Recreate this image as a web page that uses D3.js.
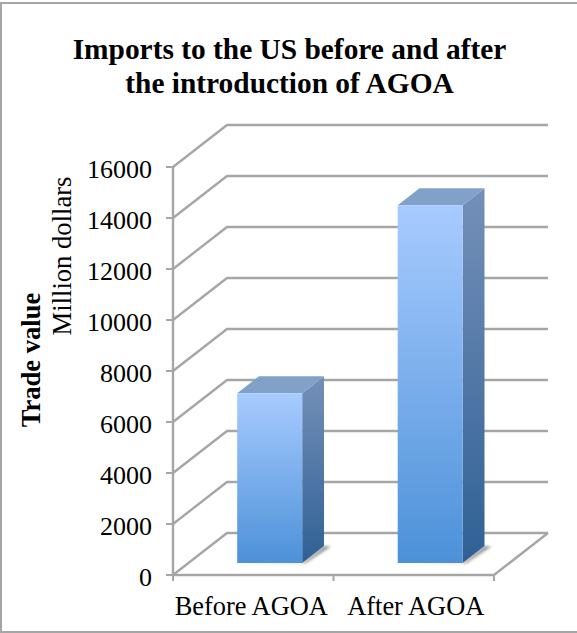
<!DOCTYPE html>
<html>
<head>
<meta charset="utf-8">
<script src="https://cdn.jsdelivr.net/npm/d3@7"></script>
<style>
html,body{margin:0;padding:0;background:#fff}
svg{display:block}
text{font-family:"Liberation Serif",serif;fill:#000}
</style>
</head>
<body>
<svg id="chart" width="577" height="633"></svg>
<script>
const categories = ["Before AGOA", "After AGOA"];
const tradeValues = [6660, 14030];
const yTicks = [0, 2000, 4000, 6000, 8000, 10000, 12000, 14000, 16000];
const titleLines = ["Imports to the US before and after", "the introduction of AGOA"];
const axisTitleBold = "Trade value";
const axisTitleUnits = "Million dollars";

const svg = d3.select("#chart");
const W = 577, H = 633;

// Oblique projection: depth d in [0,1] shifts a point right and up.
const depthX = 54, depthY = -42;
const x = d3.scaleBand().domain(categories).range([173, 494]);
const y = d3.scaleLinear().domain([0, 16000]).range([575, 167]);
const project = (px, py, d) => [px + depthX * d, py + depthY * d];
const poly = pts => pts.map(p => p.join(",")).join(" ");

const GRID = "#a6a6a6";
const defs = svg.append("defs");

const front = defs.append("linearGradient").attr("id", "barFront").attr("x1", 0).attr("y1", 0).attr("x2", 0).attr("y2", 1);
front.append("stop").attr("offset", "0%").attr("stop-color", "#a8cbff");
front.append("stop").attr("offset", "100%").attr("stop-color", "#4c91d8");

const side = defs.append("linearGradient").attr("id", "barSide").attr("x1", 0).attr("y1", 0).attr("x2", 0).attr("y2", 1);
side.append("stop").attr("offset", "0%").attr("stop-color", "#7590b8");
side.append("stop").attr("offset", "100%").attr("stop-color", "#2f6095");

defs.append("filter").attr("id", "soft").attr("x", "-30%").attr("y", "-60%").attr("width", "160%").attr("height", "220%")
  .append("feGaussianBlur").attr("stdDeviation", 1.4);

// Page frame: top, left and bottom edges only
svg.append("polyline").attr("points", poly([[W, 3], [1, 3], [1, H - 1], [W, H - 1]]))
  .attr("fill", "none").attr("stroke", GRID).attr("stroke-width", 2);

// Walls and floor
const grid = svg.append("g").attr("fill", "none").attr("stroke", GRID).attr("stroke-width", 2.4);
const [x0, x1] = x.range();
yTicks.forEach(t => {
  const a = [x0, y(t)], b = project(x0, y(t), 1), c = project(x1, y(t), 1);
  grid.append("polyline").attr("points", poly([a, b, c]));
});
const y0 = y(0);
grid.append("polyline").attr("points", poly([[x0, y0], [x1, y0], project(x1, y0, 1)]));
grid.append("line").attr("x1", x0).attr("x2", x0).attr("y1", y(16000)).attr("y2", y0);

// Axis tick marks and labels
const ticks = svg.append("g").attr("stroke", GRID).attr("stroke-width", 2);
yTicks.forEach(t => ticks.append("line").attr("x1", x0 - 7).attr("x2", x0).attr("y1", y(t)).attr("y2", y(t)));
[x0, x0 + x.bandwidth(), x1].forEach(px => ticks.append("line").attr("x1", px).attr("x2", px).attr("y1", y0).attr("y2", y0 + 6));

svg.append("g").selectAll("text").data(yTicks).join("text")
  .attr("x", 152).attr("y", d => y(d) + 10.5).attr("text-anchor", "end")
  .attr("font-size", 26).text(d => d);

svg.append("g").selectAll("text").data(categories).join("text")
  .attr("x", (d, i) => x(d) + x.bandwidth() / 2 + (i ? 2 : -2)).attr("y", 615).attr("text-anchor", "middle")
  .attr("font-size", 26.4).text(d => d);

// Bars stand part-way back on the floor
const barDepthFront = 0.286, barDepthBack = 0.69, barWidth = 65, barShift = 1;
const bars = svg.append("g").selectAll("g").data(categories.map((c, i) => ({ c, v: tradeValues[i] }))).join("g");

bars.each(function (d) {
  const g = d3.select(this);
  const left = x(d.c) + x.bandwidth() / 2 - barWidth / 2 + barShift;
  const right = left + barWidth;
  const fl = project(left, y(0), barDepthFront), fr = project(right, y(0), barDepthFront);
  const tl = project(left, y(d.v), barDepthFront), tr = project(right, y(d.v), barDepthFront);
  const br = project(right, y(d.v), barDepthBack), bl = project(left, y(d.v), barDepthBack);
  const gr = project(right, y(0), barDepthBack);

  // Floor shadow
  g.append("polygon").attr("points", poly([[fl[0] - 6, fl[1] + 0.5], fr, gr, [gr[0] + 7, gr[1] + 0.5], [fr[0] + 3, fr[1] + 0.5]]))
    .attr("fill", "#7d7d7d").attr("opacity", 0.8).attr("filter", "url(#soft)");

  g.append("polygon").attr("points", poly([tr, br, gr, fr])).attr("fill", "url(#barSide)");
  g.append("polygon").attr("points", poly([tl, tr, br, bl])).attr("fill", "#82a1c9");
  g.append("polygon").attr("points", poly([tl, tr, fr, fl])).attr("fill", "url(#barFront)");
});

// Chart title
svg.append("g").selectAll("text").data(titleLines).join("text")
  .attr("x", 289.5).attr("y", (d, i) => 58.5 + i * 34.5).attr("text-anchor", "middle")
  .attr("font-size", 29.4).attr("font-weight", "bold").text(d => d);

// Rotated axis titles
svg.append("text").attr("transform", "translate(39.5,360) rotate(-90)").attr("text-anchor", "middle")
  .attr("font-size", 26.6).attr("font-weight", "bold").text(axisTitleBold);
svg.append("text").attr("transform", "translate(71,256) rotate(-90)").attr("text-anchor", "middle")
  .attr("font-size", 26.6).text(axisTitleUnits);
</script>
</body>
</html>
